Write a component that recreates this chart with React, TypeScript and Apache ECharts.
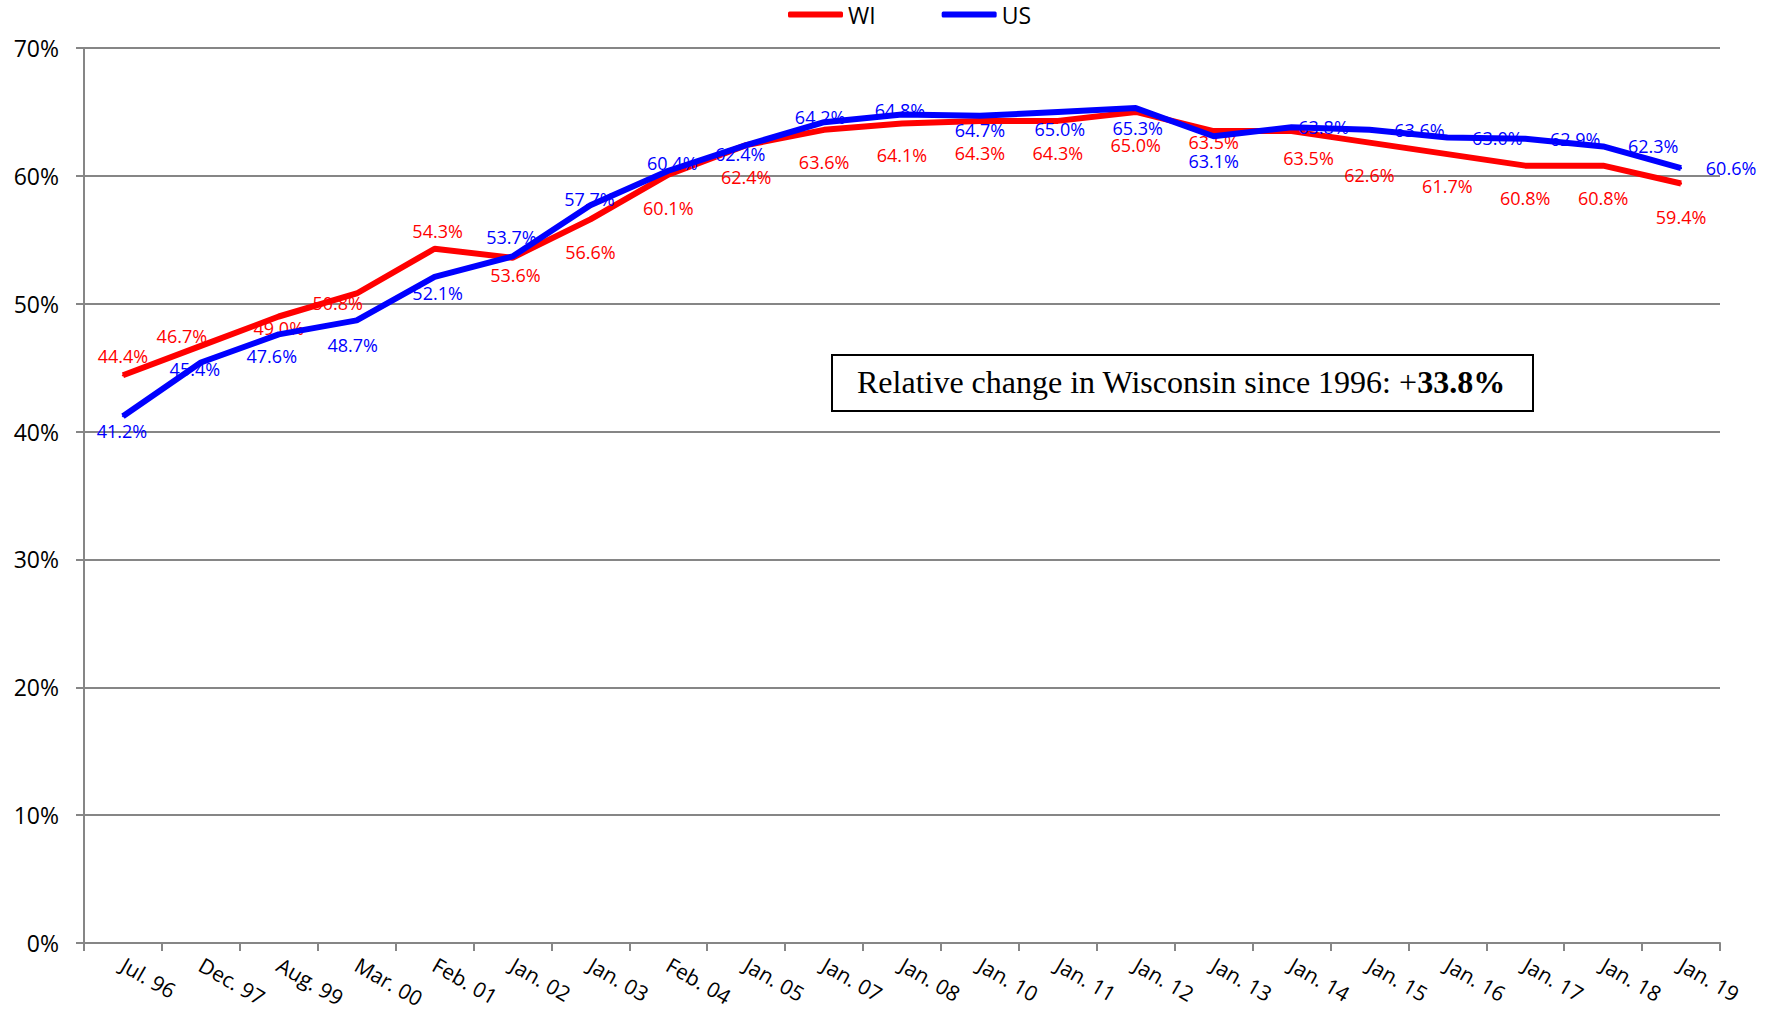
import React, { useEffect, useRef } from "react";
import * as echarts from "echarts";

const categories = [
  "Jul. 96", "Dec. 97", "Aug. 99", "Mar. 00", "Feb. 01", "Jan. 02", "Jan. 03",
  "Feb. 04", "Jan. 05", "Jan. 07", "Jan. 08", "Jan. 10", "Jan. 11", "Jan. 12",
  "Jan. 13", "Jan. 14", "Jan. 15", "Jan. 16", "Jan. 17", "Jan. 18", "Jan. 19",
];

const wiValues = [
  44.4, 46.7, 49.0, 50.8, 54.3, 53.6, 56.6, 60.1, 62.4, 63.6, 64.1, 64.3, 64.3,
  65.0, 63.5, 63.5, 62.6, 61.7, 60.8, 60.8, 59.4,
];

const usValues = [
  41.2, 45.4, 47.6, 48.7, 52.1, 53.7, 57.7, 60.4, 62.4, 64.2, 64.8, 64.7, 65.0,
  65.3, 63.1, 63.8, 63.6, 63.0, 62.9, 62.3, 60.6,
];

const yMin = 0;
const yMax = 70;
const yInterval = 10;

// label placement (offset of label centre from its point, in px)
const wiLabelOffsets = [
  [0, -19], [-19, -10], [0, 11], [-19, 10], [3, -18], [3, 17], [0, 33], [0, 33],
  [0, 32], [0, 32], [0, 32], [0, 32], [0, 32], [0, 33], [0, 11], [17, 27],
  [0, 32], [0, 32], [0, 32], [0, 32], [0, 33],
];
const usLabelOffsets = [
  [-1, 15], [-6, 6], [-7, 22], [-4, 25], [3, 16], [-1, -19], [-1, -6], [4, -8],
  [-6, 9], [-4, -5], [-2, -4], [0, 14], [2, 17], [2, 20], [0, 25], [32, 0],
  [50, 0], [50, 0], [50, 0], [50, 0], [50, 0],
];

const SANS = '"Open Sans", "Liberation Sans", sans-serif';
const NARROW = '"Liberation Sans Narrow", "Open Sans", sans-serif';
const SERIF = '"Liberation Serif", "Times New Roman", serif';
const GRID_COLOR = "#868686";

export default function App() {
  const ref = useRef<HTMLDivElement>(null);

  useEffect(() => {
    if (!ref.current) return;
    const chart = echarts.init(ref.current, null, { renderer: "svg" });

    const first = wiValues[0];
    const last = wiValues[wiValues.length - 1];
    const relChange = ((last / first - 1) * 100).toFixed(1);

    const makeData = (vals: number[], offs: number[][]) =>
      vals.map((v, i) => ({ value: v, label: { offset: offs[i] } }));

    const labelBase = {
      show: true,
      position: "inside",
      fontFamily: NARROW,
      fontSize: 18,
      formatter: (p: any) => Number(p.value).toFixed(1) + "%",
    };

    chart.setOption({
      animation: false,
      backgroundColor: "#ffffff",
      legend: {
        data: ["WI", "US"],
        left: 788,
        top: 3,
        padding: 0,
        icon: "roundRect",
        itemWidth: 55,
        itemHeight: 6,
        itemGap: 66,
        textStyle: { fontFamily: SANS, fontSize: 23, color: "#000" },
      },
      grid: {
        left: 84,
        right: 51,
        top: 48,
        bottom: 71,
        containLabel: false,
        outerBoundsMode: "none",
      },
      xAxis: {
        type: "category",
        data: categories,
        boundaryGap: true,
        axisLine: { lineStyle: { color: GRID_COLOR, width: 2 } },
        axisTick: { show: true, length: 8, lineStyle: { color: GRID_COLOR, width: 2 } },
        axisLabel: {
          interval: 0,
          rotate: -30,
          margin: 20,
          color: "#000",
          fontFamily: SANS,
          fontSize: 21,
        },
      },
      yAxis: {
        type: "value",
        min: yMin,
        max: yMax,
        interval: yInterval,
        axisLine: { show: true, lineStyle: { color: GRID_COLOR, width: 2 } },
        axisTick: { show: true, length: 8, lineStyle: { color: GRID_COLOR, width: 2 } },
        splitLine: { lineStyle: { color: GRID_COLOR, width: 2 } },
        axisLabel: {
          formatter: "{value}%",
          margin: 25,
          color: "#000",
          fontFamily: SANS,
          fontSize: 23,
        },
      },
      series: [
        {
          name: "WI",
          type: "line",
          data: makeData(wiValues, wiLabelOffsets),
          symbol: "circle",
          symbolSize: 2,
          showSymbol: true,
          itemStyle: { color: "#FF0000" },
          lineStyle: { color: "#FF0000", width: 6 },
          label: { ...labelBase, color: "#FF0000" },
          z: 3,
        },
        {
          name: "US",
          type: "line",
          data: makeData(usValues, usLabelOffsets),
          symbol: "circle",
          symbolSize: 2,
          showSymbol: true,
          itemStyle: { color: "#0000FF" },
          lineStyle: { color: "#0000FF", width: 6 },
          label: { ...labelBase, color: "#0000FF" },
          z: 4,
        },
      ],
      graphic: [
        {
          type: "rect",
          left: 831,
          top: 354,
          shape: { width: 701, height: 56 },
          style: { fill: "#ffffff", stroke: "#000000", lineWidth: 2 },
          z: 10,
        },
        {
          type: "text",
          x: 1181,
          y: 382,
          z: 11,
          style: {
            text: `{a|Relative change in Wisconsin since 1996: +}{b|${relChange}%}`,
            textAlign: "center",
            textVerticalAlign: "middle",
            fill: "#000",
            rich: {
              a: { fontFamily: SERIF, fontSize: 32, fill: "#000" },
              b: { fontFamily: SERIF, fontSize: 32, fontWeight: "bold", fill: "#000" },
            },
          },
        },
      ],
    });

    return () => chart.dispose();
  }, []);

  return (
    <div
      ref={ref}
      style={{ position: "fixed", left: 0, top: 0, width: 1771, height: 1014 }}
    />
  );
}
